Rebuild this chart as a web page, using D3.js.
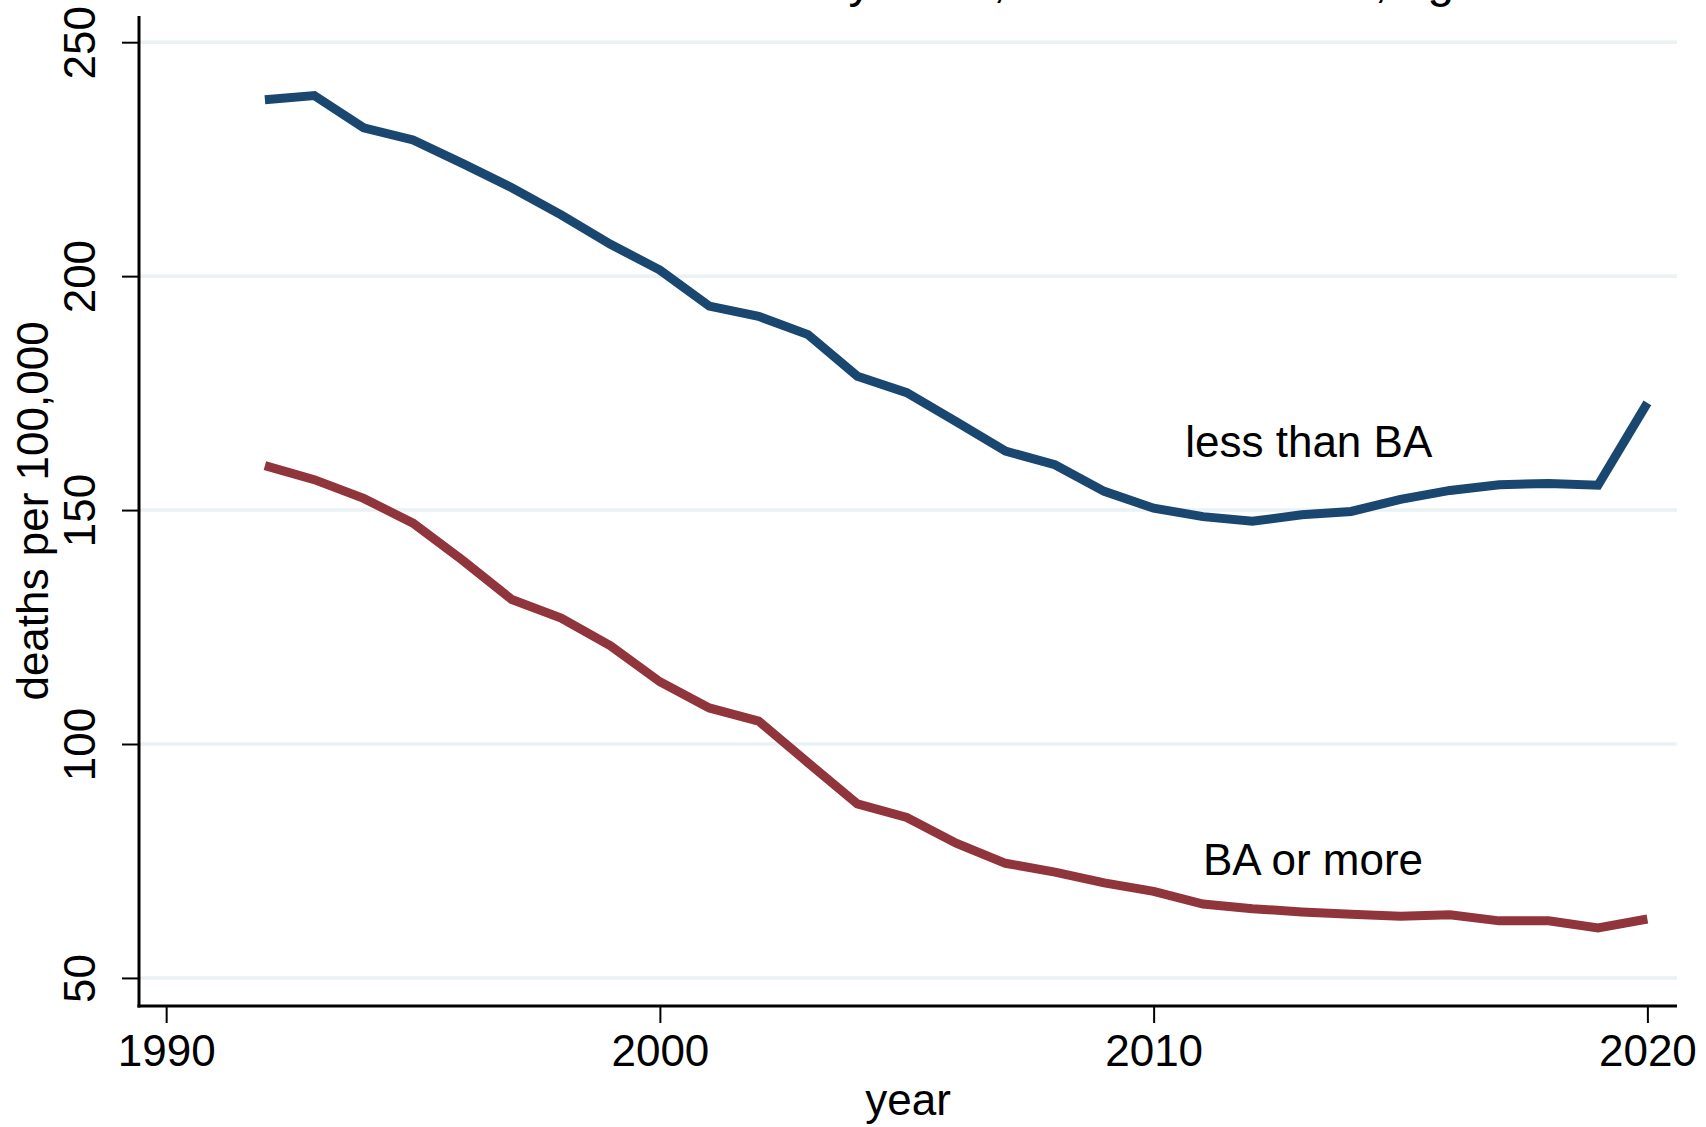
<!DOCTYPE html>
<html>
<head>
<meta charset="utf-8">
<script src="https://cdn.jsdelivr.net/npm/d3@7"></script>
<style>
  html, body { margin: 0; padding: 0; background: #ffffff; }
  svg { display: block; font-family: "Liberation Sans", Arial, Helvetica, sans-serif; }
</style>
</head>
<body>
<svg id="chart" width="1706" height="1127"></svg>
<script>
// ---- data ----
const years = [1992,1993,1994,1995,1996,1997,1998,1999,2000,2001,2002,2003,2004,2005,2006,2007,2008,2009,2010,2011,2012,2013,2014,2015,2016,2017,2018,2019,2020];
const lessThanBA = [237.7,238.6,231.7,229.1,224.1,218.9,213.1,206.8,201.3,193.6,191.4,187.5,178.6,175.1,168.9,162.6,159.7,154.0,150.4,148.6,147.6,149.0,149.7,152.3,154.2,155.4,155.7,155.3,172.9];
const baOrMore = [159.5,156.5,152.5,147.2,139.3,130.9,126.9,121.0,113.3,107.7,104.9,96.0,87.2,84.3,78.8,74.5,72.6,70.3,68.5,65.8,64.8,64.1,63.6,63.2,63.5,62.2,62.2,60.7,62.6];
const seriesNames = ["less than BA", "BA or more"];
const xTicks = [1990, 2000, 2010, 2020];
const yTicks = [50, 100, 150, 200, 250];
const titleText = "Cardiovascular disease mortality rates, men and women, ages 25-64";
const xTitle = "year";
const yTitle = "deaths per 100,000";

// ---- layout ----
const svg = d3.select("#chart");
const plot = { left: 139, right: 1677, top: 16, bottom: 1006 };
const x = d3.scaleLinear().domain([1989.45, 2020.6]).range([plot.left, plot.right]);
const y = d3.scaleLinear().domain([44, 255.6]).range([plot.bottom, plot.top]);

const colors = ["#1a476f", "#90353b"];

// gridlines
svg.append("g").selectAll("line").data(yTicks).join("line")
  .attr("x1", plot.left).attr("x2", plot.right)
  .attr("y1", d => y(d)).attr("y2", d => y(d))
  .attr("stroke", "#eaf2f3").attr("stroke-width", 3.5);

// title (mostly cut off above the frame, as in the original)
svg.append("text")
  .attr("x", 910).attr("y", -3)
  .attr("text-anchor", "middle")
  .attr("font-size", 48)
  .attr("fill", "#000")
  .text(titleText);

// lines
const line = d3.line().x((d, i) => x(years[i])).y(d => y(d));
[lessThanBA, baOrMore].forEach((s, k) => {
  svg.append("path")
    .datum(s)
    .attr("d", line)
    .attr("fill", "none")
    .attr("stroke", colors[k])
    .attr("stroke-width", 9)
    .attr("stroke-linejoin", "miter")
    .attr("stroke-linecap", "butt");
});

// y axis
const yAxis = d3.axisLeft(y).tickValues(yTicks).tickSize(17).tickPadding(27).tickFormat(d3.format("d"));
const gy = svg.append("g").attr("transform", `translate(${plot.left},0)`).call(yAxis);
gy.select(".domain").remove();
gy.selectAll(".tick line").attr("stroke", "#000").attr("stroke-width", 2);
gy.selectAll(".tick text")
  .attr("font-size", 44)
  .attr("fill", "#000")
  .attr("font-family", "Liberation Sans, Arial, sans-serif")
  .attr("text-anchor", "middle")
  .attr("dy", 0)
  .attr("x", 0)
  .attr("transform", "translate(-44,0) rotate(-90)");

// x axis
const xAxis = d3.axisBottom(x).tickValues(xTicks).tickSize(17).tickPadding(8).tickFormat(d3.format("d"));
const gx = svg.append("g").attr("transform", `translate(0,${plot.bottom})`).call(xAxis);
gx.select(".domain").remove();
gx.selectAll(".tick line").attr("stroke", "#000").attr("stroke-width", 2);
gx.selectAll(".tick text")
  .attr("font-size", 44)
  .attr("fill", "#000")
  .attr("font-family", "Liberation Sans, Arial, sans-serif")
  .attr("dy", 0)
  .attr("y", 60);

// axis lines
svg.append("line").attr("x1", plot.left).attr("x2", plot.left).attr("y1", plot.top).attr("y2", plot.bottom + 1.5)
  .attr("stroke", "#000").attr("stroke-width", 3);
svg.append("line").attr("x1", plot.left - 1.5).attr("x2", plot.right).attr("y1", plot.bottom).attr("y2", plot.bottom)
  .attr("stroke", "#000").attr("stroke-width", 3);

// axis titles
svg.append("text")
  .attr("x", (plot.left + plot.right) / 2).attr("y", 1115)
  .attr("text-anchor", "middle").attr("font-size", 44).attr("fill", "#000")
  .text(xTitle);
svg.append("text")
  .attr("transform", `translate(48,${(plot.top + plot.bottom) / 2}) rotate(-90)`)
  .attr("text-anchor", "middle").attr("font-size", 44).attr("fill", "#000")
  .text(yTitle);

// series labels
svg.append("text")
  .attr("x", x(2010.64)).attr("y", y(161.3))
  .attr("font-size", 44).attr("fill", "#000")
  .text(seriesNames[0]);
svg.append("text")
  .attr("x", x(2011.0)).attr("y", y(72.1))
  .attr("font-size", 44).attr("fill", "#000")
  .text(seriesNames[1]);
</script>
</body>
</html>
